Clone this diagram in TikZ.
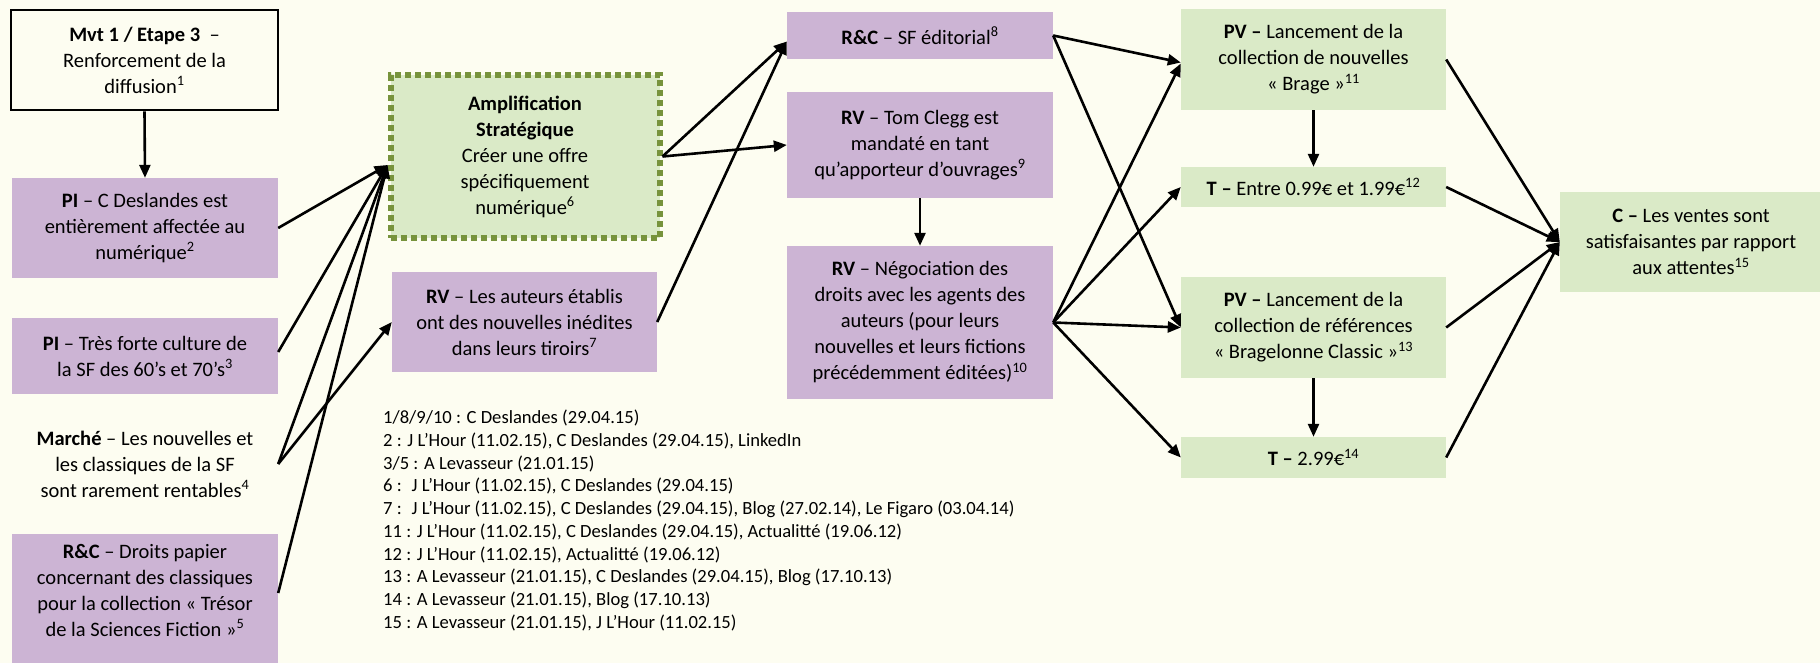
\documentclass[tikz,border=0pt]{standalone}
\usepackage{fontspec}
\setmainfont{Carlito}
\usetikzlibrary{arrows.meta}
\definecolor{bgc}{RGB}{253,253,241}
\definecolor{purp}{RGB}{204,180,212}
\definecolor{grn}{RGB}{218,234,199}
\definecolor{olive}{RGB}{119,147,60}
\begin{document}
\begin{tikzpicture}[x=1pt,y=-1pt,
  box/.style={inner sep=0pt, align=center, font=\fontsize{20.5}{26}\selectfont},
  pbox/.style={box, fill=purp},
  gbox/.style={box, fill=grn},
  arr/.style={line width=2.6pt, -{Triangle[length=13pt,width=11pt]}},
]
\fill[bgc] (0,0) rectangle (1820,663);
\useasboundingbox (0,0) rectangle (1820,663);
% left column
\node[box, draw=black, line width=2.8pt, minimum width=267pt, minimum height=100pt] (mvt) at (144.5,60)
  {\textbf{Mvt 1 / Etape 3}~ –\\Renforcement de la\\diffusion\textsuperscript{1}};
\node[pbox, minimum width=266pt, minimum height=100pt] (pi1) at (145,228)
  {\textbf{PI} – C Deslandes est\\entièrement affectée au\\numérique\textsuperscript{2}};
\node[pbox, minimum width=266pt, minimum height=76pt] (pi2) at (145,356)
  {\textbf{PI} – Très forte culture de\\la SF des 60’s et 70’s\textsuperscript{3}};
\node[box, minimum width=266pt, minimum height=76pt] (marche) at (145,464)
  {\textbf{Marché} – Les nouvelles et\\les classiques de la SF\\sont rarement rentables\textsuperscript{4}};
\fill[purp] (12,600) rectangle (278,670);
\node[pbox, minimum width=266pt, minimum height=112pt] (rc1) at (145,590)
  {\textbf{R\&C} – Droits papier\\concernant des classiques\\pour la collection « Trésor\\de la Sciences Fiction »\textsuperscript{5}};
% second column
\node[gbox, draw=olive, line width=6pt, dash pattern=on 6pt off 4pt, minimum width=269pt, minimum height=162pt] (amp) at (525,156.5)
  {\textbf{Amplification}\\\textbf{Stratégique}\\Créer une offre\\spécifiquement\\numérique\textsuperscript{6}};
\node[pbox, minimum width=265pt, minimum height=100pt] (rva) at (524.5,322)
  {\textbf{RV} – Les auteurs établis\\ont des nouvelles inédites\\dans leurs tiroirs\textsuperscript{7}};
\node[anchor=north west, align=left, inner sep=0pt, font=\fontsize{18.6}{22.7}\selectfont] (notes) at (383,410)
  {1/8/9/10 : C Deslandes (29.04.15)\\
   2 : J L’Hour (11.02.15), C Deslandes (29.04.15), LinkedIn\\
   3/5 : A Levasseur (21.01.15)\\
   6 :~ J L’Hour (11.02.15), C Deslandes (29.04.15)\\
   7 :~ J L’Hour (11.02.15), C Deslandes (29.04.15), Blog (27.02.14), Le Figaro (03.04.14)\\
   11 : J L’Hour (11.02.15), C Deslandes (29.04.15), Actualitté (19.06.12)\\
   12 : J L’Hour (11.02.15), Actualitté (19.06.12)\\
   13 : A Levasseur (21.01.15), C Deslandes (29.04.15), Blog (17.10.13)\\
   14 : A Levasseur (21.01.15), Blog (17.10.13)\\
   15 : A Levasseur (21.01.15), J L’Hour (11.02.15)};
% third column
\node[pbox, minimum width=266pt, minimum height=47pt] (rce) at (920,35.5)
  {\textbf{R\&C} – SF éditorial\textsuperscript{8}};
\node[pbox, minimum width=266pt, minimum height=106pt] (rvt) at (920,145)
  {\textbf{RV} – Tom Clegg est\\mandaté en tant\\qu’apporteur d’ouvrages\textsuperscript{9}};
\node[pbox, minimum width=266pt, minimum height=153pt] (rvn) at (920,322.5)
  {\textbf{RV} – Négociation des\\droits avec les agents des\\auteurs (pour leurs\\nouvelles et leurs fictions\\précédemment éditées)\textsuperscript{10}};
% fourth column
\node[gbox, minimum width=265pt, minimum height=101pt] (pv1) at (1313.5,59.5)
  {\textbf{PV –} Lancement de la\\collection de nouvelles\\« Brage »\textsuperscript{11}};
\node[gbox, minimum width=265pt, minimum height=40pt] (t1) at (1313.5,187)
  {\textbf{T –} Entre 0.99€ et 1.99€\textsuperscript{12}};
\node[gbox, minimum width=265pt, minimum height=101pt] (pv2) at (1313.5,327.5)
  {\textbf{PV –} Lancement de la\\collection de références\\« Bragelonne Classic »\textsuperscript{13}};
\node[gbox, minimum width=265pt, minimum height=41pt] (t2) at (1313.5,457.5)
  {\textbf{T –} 2.99€\textsuperscript{14}};
% last
\node[gbox, minimum width=262pt, minimum height=100pt] (c) at (1691,242)
  {\textbf{C –} Les ventes sont\\satisfaisantes par rapport\\aux attentes\textsuperscript{15}};
% connectors
\draw[arr] (mvt.south) -- (pi1.north);
\draw[arr] (pi1.east) -- ([yshift=-8.5pt]amp.west);
\draw[arr] ([yshift=4pt]pi2.east) -- ([yshift=-8.5pt]amp.west);
\draw[arr] (marche.east) -- ([yshift=-8.5pt]amp.west);
\draw[arr] ([yshift=-3pt]rc1.east) -- ([yshift=-8.5pt]amp.west);
\draw[arr] (marche.east) -- (rva.west);
\draw[arr] (amp.east) -- ([yshift=-6pt]rce.west);
\draw[arr] (amp.east) -- (rvt.west);
\draw[arr] (rva.east) -- ([yshift=-6pt]rce.west);
\draw[arr] (rvt.south) -- (rvn.north);
\draw[arr] (rce.east) -- ([yshift=-3pt]pv1.west);
\draw[arr] (rce.east) -- (pv2.west);
\draw[arr] (rvn.east) -- ([yshift=-4pt]pv1.west);
\draw[arr] (rvn.east) -- (t1.west);
\draw[arr] (rvn.east) -- (pv2.west);
\draw[arr] (rvn.east) -- (t2.west);
\draw[arr] (pv1.south) -- (t1.north);
\draw[arr] (pv2.south) -- (t2.north);
\draw[arr] (pv1.east) -- (c.west);
\draw[arr] (t1.east) -- (c.west);
\draw[arr] (pv2.east) -- (c.west);
\draw[arr] (t2.east) -- (c.west);
\end{tikzpicture}
\end{document}
